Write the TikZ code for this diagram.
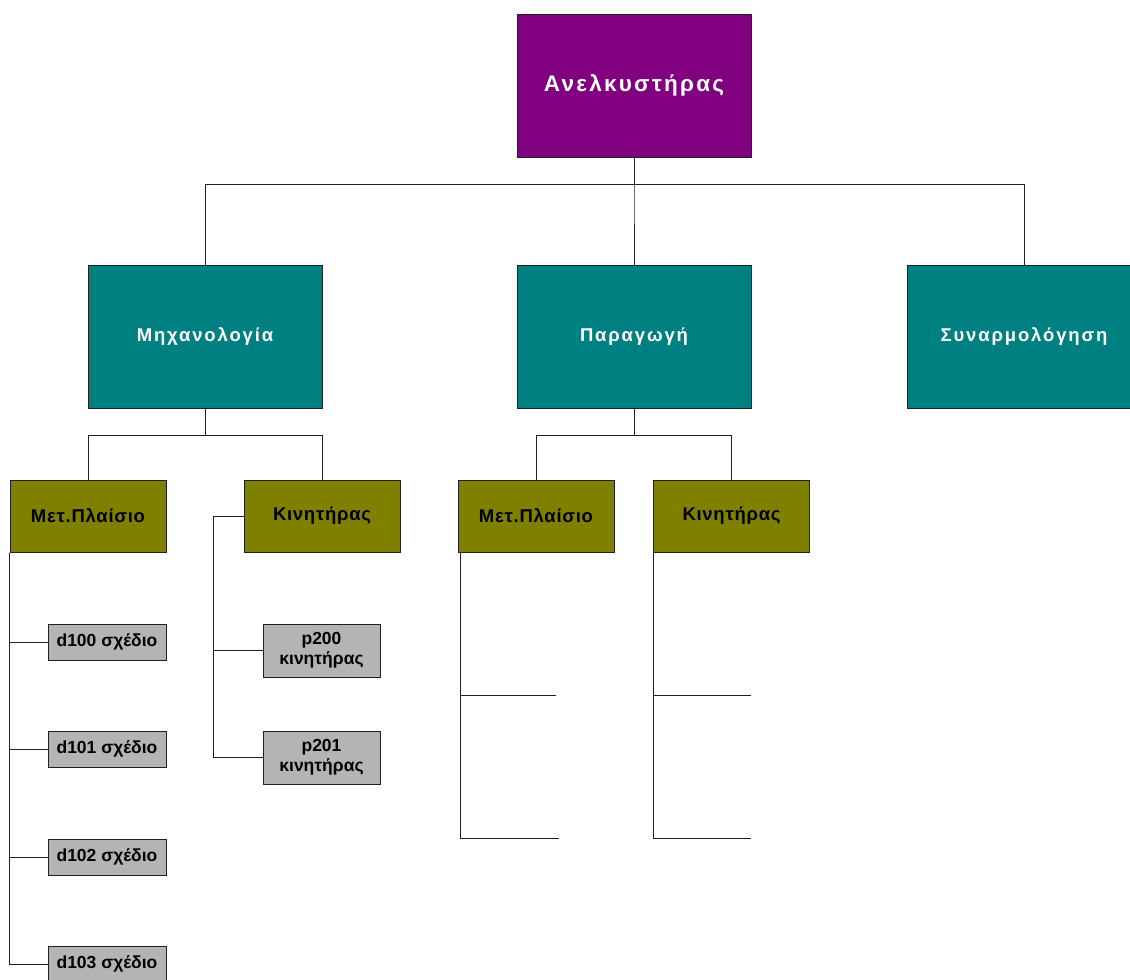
\documentclass[tikz,border=0pt]{standalone}
\usepackage{fontspec}
\setmainfont{Liberation Sans}
\newfontfamily\widefont[LetterSpace=10]{Liberation Sans}
\newfontfamily\partfont[LetterSpace=4]{Liberation Sans}
\definecolor{topcol}{HTML}{800080}
\definecolor{deptcol}{HTML}{008080}
\definecolor{partcol}{HTML}{808000}
\definecolor{leafcol}{HTML}{B4B4B4}
\definecolor{edgecol}{HTML}{202020}
\tikzset{
  box/.style={draw=edgecol, line width=1pt, inner sep=0pt, align=center},
  rootbox/.style={box, fill=topcol, text=white, minimum width=234pt, minimum height=143pt,
    font=\widefont\bfseries\fontsize{22.5}{26}\selectfont},
  deptbox/.style={box, fill=deptcol, text=white, minimum width=234pt, minimum height=143pt,
    font=\widefont\bfseries\fontsize{18.5}{22}\selectfont},
  partbox/.style={box, fill=partcol, text=black, minimum width=156pt, minimum height=72pt,
    font=\partfont\bfseries\fontsize{18.5}{22}\selectfont},
  leafbox/.style={box, fill=leafcol, text=black, minimum width=118pt, minimum height=36pt,
    font=\bfseries\fontsize{17.5}{20}\selectfont},
  leafbox2/.style={leafbox, minimum width=117pt, minimum height=53pt},
  link/.style={draw=edgecol, line width=1pt},
}
\begin{document}
\begin{tikzpicture}[x=1pt, y=-1pt]
\useasboundingbox (0,0) rectangle (1130,980);
\clip (0,0) rectangle (1130,980);
\fill[white] (0,0) rectangle (1130,980);

% root and departments
\node[rootbox] (root) at (634,85.5) {Ανελκυστήρας};
\node[deptbox] (mech) at (205,336.5) {Μηχανολογία};
\node[deptbox] (prod) at (634,336.5) {Παραγωγή};
\node[deptbox] (asm) at (1024,336.5) {Συναρμολόγηση};

% parts
\node[partbox] (mframe) at (88,516) {Μετ.Πλαίσιο};
\node[partbox] (mmotor) at (322,516) {Κινητήρας};
\node[partbox] (pframe) at (536,516) {Μετ.Πλαίσιο};
\node[partbox] (pmotor) at (731.5,516) {Κινητήρας};

% drawings
\node[leafbox] (d100) at (107,642) {d100 σχέδιο};
\node[leafbox] (d101) at (107,749) {d101 σχέδιο};
\node[leafbox] (d102) at (107,857) {d102 σχέδιο};
\node[leafbox] (d103) at (107,964) {d103 σχέδιο};
\node[leafbox2] (p200) at (321.5,650.5) {p200\\κινητήρας};
\node[leafbox2] (p201) at (321.5,757.5) {p201\\κινητήρας};

% root to departments
\draw[link] (root.south) -- ++(0,27) -| (mech.north);
\draw[link] (root.south) -- ++(0,27) -| (prod.north);
\draw[link] (root.south) -- ++(0,27) -| (asm.north);

% departments to parts
\draw[link] (mech.south) -- ++(0,27) -| (mframe.north);
\draw[link] (mech.south) -- ++(0,27) -| (mmotor.north);
\draw[link] (prod.south) -- ++(0,27) -| (pframe.north);
\draw[link] (prod.south) -- ++(0,27) -| (pmotor.north);

% frame drawings
\draw[link] (mframe.south west) |- (d100.west);
\draw[link] (mframe.south west) |- (d101.west);
\draw[link] (mframe.south west) |- (d102.west);
\draw[link] (mframe.south west) |- (d103.west);

% motor drawings
\coordinate (mtrunk) at ([xshift=-30pt]mmotor.west);
\draw[link] (mmotor.west) -- (mtrunk) |- (p200.west);
\draw[link] (mtrunk) |- (p201.west);

% open branches under production
\coordinate (pftop) at ([xshift=3pt]pframe.south west);
\coordinate (pfa) at (556,695);
\coordinate (pfb) at (559,838);
\draw[link] (pftop) |- (pfa);
\draw[link] (pftop) |- (pfb);
\coordinate (pmtop) at (pmotor.south west);
\coordinate (pma) at (751,695);
\coordinate (pmb) at (751,838);
\draw[link] (pmtop) |- (pma);
\draw[link] (pmtop) |- (pmb);
\end{tikzpicture}
\end{document}
